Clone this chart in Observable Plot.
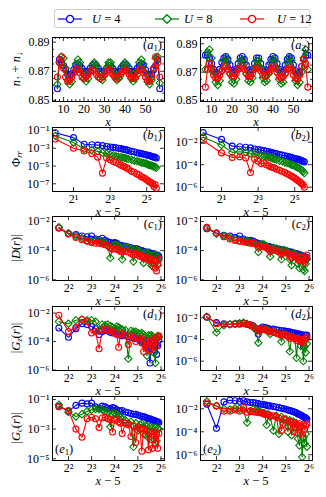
<!DOCTYPE html>
<html><head><meta charset="utf-8">
<script src="https://cdn.jsdelivr.net/npm/d3@7"></script>
<script src="https://cdn.jsdelivr.net/npm/@observablehq/plot@0.6"></script>
<style>
body{margin:0;background:#fff;}
#root{position:relative;width:326px;height:497px;overflow:hidden;font-family:"Liberation Serif","DejaVu Serif",serif;color:#000;}
.t{position:absolute;white-space:nowrap;line-height:1;font-size:12.5px;}
.t sub{font-size:70%;vertical-align:-0.3em;line-height:0;}
</style></head><body><div id="root"></div>
<script>
// ---------- data ----------
const SITES = [7,8,9,10,11,12,13,14,15,16,17,18,19,20,21,22,23,24,25,26,27,28,29,30,31,32,33,34,35,36,37,38,39,40,41,42,43,44,45,46,47,48,49,50,51,52,53,54,55,56,57];
const a1_U4 = [0.858,0.878,0.876,0.874,0.871,0.868,0.867,0.868,0.871,0.874,
  0.875,0.874,0.872,0.870,0.869,0.870,0.872,0.874,0.875,0.874,
  0.872,0.870,0.869,0.870,0.872,0.874,0.874,0.872,0.870,0.869,
  0.870,0.872,0.874,0.875,0.874,0.872,0.870,0.869,0.870,0.872,
  0.874,0.875,0.874,0.871,0.868,0.867,0.868,0.871,0.874,0.878,0.858];
const a1_U8 = [0.861,0.876,0.880,0.879,0.872,0.864,0.861,0.863,0.869,0.875,
  0.878,0.876,0.870,0.865,0.863,0.865,0.870,0.874,0.876,0.874,
  0.869,0.865,0.864,0.867,0.872,0.876,0.876,0.872,0.867,0.864,
  0.865,0.869,0.874,0.876,0.874,0.870,0.865,0.863,0.865,0.870,
  0.876,0.878,0.875,0.869,0.863,0.861,0.864,0.872,0.879,0.880,0.862];
const a1_U12 = [0.866,0.876,0.880,0.872,0.866,0.863,0.864,0.866,0.869,0.871,
  0.871,0.869,0.866,0.865,0.866,0.868,0.870,0.871,0.870,0.868,
  0.866,0.865,0.866,0.868,0.870,0.871,0.870,0.868,0.866,0.865,
  0.866,0.868,0.870,0.871,0.870,0.868,0.866,0.865,0.866,0.868,
  0.871,0.871,0.869,0.866,0.864,0.863,0.866,0.872,0.880,0.876,0.866];
const a2_U4 = [0.882,0.882,0.880,0.876,0.872,0.870,0.869,0.872,0.877,0.880,
  0.881,0.879,0.875,0.871,0.870,0.872,0.876,0.880,0.881,0.879,
  0.875,0.871,0.870,0.872,0.876,0.880,0.880,0.876,0.872,0.870,
  0.871,0.875,0.879,0.881,0.880,0.876,0.872,0.870,0.871,0.875,
  0.879,0.881,0.880,0.875,0.871,0.869,0.870,0.874,0.879,0.882,0.882];
const a2_U8 = [0.872,0.884,0.886,0.880,0.870,0.863,0.861,0.864,0.871,0.878,
  0.880,0.877,0.869,0.863,0.862,0.865,0.872,0.878,0.879,0.876,
  0.869,0.864,0.863,0.866,0.873,0.878,0.878,0.873,0.866,0.863,
  0.864,0.869,0.876,0.879,0.878,0.872,0.865,0.862,0.863,0.869,
  0.877,0.880,0.878,0.871,0.864,0.861,0.863,0.870,0.880,0.886,0.872];
const a2_U12 = [0.8595,0.872,0.876,0.873,0.868,0.866,0.866,0.868,0.871,0.873,
  0.874,0.872,0.869,0.867,0.867,0.869,0.872,0.873,0.874,0.872,
  0.869,0.867,0.867,0.869,0.872,0.873,0.873,0.871,0.868,0.867,
  0.868,0.870,0.872,0.874,0.873,0.870,0.867,0.866,0.867,0.869,
  0.872,0.873,0.872,0.868,0.866,0.865,0.868,0.874,0.879,0.876,0.8595];

// correlations vs x-5; values stored as log10 of the plotted quantity
const RB = [1,2,3,4,5,6,7,8,9,10,11,12,13,14,15,16,18,20,22,24,26,28,30,32,34,36,38,40,42,44,46];
const b1_U4 = [-1.25,-1.8,-2.55,-2.6,-2.65,-2.7,-2.8,-2.85,-2.9,-2.95,-3.0,-3.02,-3.1,-3.15,-3.18,-3.25,-3.35,-3.4,-3.5,-3.55,-3.6,-3.65,-3.7,-3.75,-3.8,-3.85,-3.9,-3.95,-4.0,-4.02,-4.1];
const b1_U8 = [-1.6,-2.35,-3.1,-3.2,-3.35,-3.5,-3.6,-3.7,-3.8,-3.9,-3.95,-4.0,-4.05,-4.1,-4.15,-4.2,-4.3,-4.4,-4.45,-4.5,-4.6,-4.65,-4.7,-4.75,-4.85,-4.9,-4.95,-5.0,-5.05,-5.1,-5.2];
const b1_U12 = [-1.95,-3.0,-3.3,-3.6,-4.0,-5.8,-4.1,-4.3,-4.5,-4.6,-4.75,-4.9,-5.0,-5.1,-5.2,-5.35,-5.6,-5.7,-5.9,-6.0,-6.2,-6.3,-6.4,-6.55,-6.7,-6.8,-6.9,-7.0,-7.3,-7.1,-7.5];
const b2_U4 = [-1.15,-1.75,-2.35,-2.4,-2.45,-2.5,-2.6,-2.65,-2.7,-2.75,-2.8,-2.85,-2.9,-2.95,-3.0,-3.0,-3.1,-3.15,-3.2,-3.25,-3.3,-3.35,-3.4,-3.45,-3.5,-3.5,-3.55,-3.6,-3.65,-3.7,-3.75];
const b2_U8 = [-1.55,-2.25,-2.9,-2.85,-2.9,-3.0,-3.05,-3.1,-3.2,-3.25,-3.3,-3.35,-3.4,-3.45,-3.5,-3.55,-3.65,-3.7,-3.8,-3.85,-3.9,-4.0,-4.05,-4.1,-4.2,-4.25,-4.3,-4.4,-4.5,-4.6,-4.75];
const b2_U12 = [-1.85,-2.95,-3.35,-3.3,-3.4,-4.7,-3.5,-3.7,-3.9,-3.85,-4.0,-4.1,-4.2,-4.25,-4.3,-4.4,-4.5,-4.6,-4.7,-4.8,-4.9,-5.0,-5.1,-5.2,-5.3,-5.4,-5.5,-5.6,-5.7,-5.8,-6.0];

const RC = [3,4,5,6,7,8,9,10,11,12,13,14,15,16,17,18,19,20,22,24,26,28,30,32,34,36,38,40,42,44,46,48,50,52,54,56,58,60];
const c1_U4 = [-2.45,-2.85,-2.9,-3.0,-3.05,-3.0,-3.2,-3.25,-3.15,-3.3,-3.4,-3.45,-3.5,-3.45,-3.5,-3.6,-3.7,-3.65,-3.7,-3.75,-3.8,-3.9,-3.85,-3.9,-4.0,-4.0,-4.05,-4.1,-4.15,-4.1,-4.2,-4.25,-4.2,-4.3,-4.3,-4.35,-4.3,-4.4];
const c1_U8 = [-2.4,-2.8,-3.0,-3.15,-3.3,-3.35,-3.3,-3.35,-3.45,-3.5,-3.7,-4.5,-3.7,-3.6,-3.6,-3.65,-3.8,-4.6,-3.75,-3.8,-3.9,-4.75,-3.9,-4.0,-4.05,-4.4,-4.85,-4.1,-4.15,-4.2,-4.6,-5.0,-5.1,-4.3,-4.25,-4.7,-5.0,-4.5];
const c1_U12 = [-2.45,-2.85,-3.1,-3.25,-3.35,-3.45,-3.5,-3.5,-3.55,-3.6,-3.65,-3.8,-3.9,-3.85,-3.9,-3.95,-4.05,-4.1,-4.0,-4.1,-4.2,-4.3,-4.2,-4.3,-4.4,-4.35,-4.5,-4.45,-4.6,-4.5,-4.7,-4.6,-4.9,-4.7,-5.2,-5.4,-4.9,-4.6];
const c2_U4 = [-2.5,-2.8,-2.95,-3.0,-3.1,-3.0,-3.2,-3.3,-3.3,-3.35,-3.45,-3.5,-3.55,-3.6,-3.65,-3.7,-3.7,-3.75,-3.8,-3.85,-3.9,-3.95,-4.0,-4.0,-4.05,-4.1,-4.1,-4.15,-4.2,-4.2,-4.25,-4.3,-4.3,-4.35,-4.4,-4.4,-4.45,-4.5];
const c2_U8 = [-2.45,-2.85,-3.0,-3.1,-3.2,-3.3,-3.3,-3.35,-3.4,-3.45,-3.55,-4.1,-3.6,-3.55,-3.6,-3.7,-3.8,-4.4,-3.8,-3.85,-3.95,-4.6,-3.95,-4.0,-4.1,-4.6,-5.0,-4.2,-4.25,-4.3,-4.9,-5.2,-4.4,-4.45,-5.3,-5.4,-4.9,-4.6];
const c2_U12 = [-2.4,-2.8,-3.05,-3.2,-3.3,-3.35,-3.4,-3.45,-3.5,-3.5,-3.55,-3.75,-3.75,-3.7,-3.75,-3.8,-3.9,-4.05,-3.95,-4.0,-4.1,-4.25,-4.1,-4.15,-4.2,-4.4,-4.5,-4.3,-4.35,-4.4,-4.6,-4.7,-4.45,-4.5,-4.7,-4.8,-4.5,-4.3];
const d1_U4 = [-3.05,-3.7,-3.1,-2.75,-2.8,-2.95,-3.1,-3.5,-3.3,-3.2,-3.25,-3.35,-3.4,-3.3,-3.45,-3.5,-3.55,-3.6,-3.55,-3.65,-3.6,-3.75,-3.8,-3.75,-3.9,-4.0,-3.9,-4.2,-4.0,-4.5,-5.5,-4.3,-4.1,-4.6,-4.2,-4.9,-4.3,-3.9];
const d1_U8 = [-2.6,-2.75,-2.5,-2.45,-2.5,-2.5,-2.6,-3.2,-2.8,-2.85,-2.8,-2.9,-3.0,-3.1,-2.95,-3.0,-3.1,-3.15,-3.2,-5.2,-3.25,-3.3,-3.3,-3.4,-3.45,-3.4,-3.5,-4.3,-5.0,-3.55,-3.6,-3.55,-3.65,-4.8,-5.5,-3.7,-3.6,-3.7];
const d1_U12 = [-2.15,-3.3,-3.0,-2.45,-2.6,-3.4,-3.3,-4.5,-3.2,-3.1,-3.2,-3.25,-3.3,-3.4,-3.5,-4.4,-3.5,-3.45,-3.6,-4.2,-3.6,-3.7,-4.0,-3.8,-3.75,-4.1,-4.7,-3.9,-4.5,-4.0,-4.6,-3.9,-4.4,-4.1,-3.8,-4.3,-3.7,-3.6];
const d2_U4 = [-1.95,-2.45,-2.55,-2.6,-2.55,-2.5,-2.5,-2.6,-2.65,-2.75,-3.0,-3.5,-3.0,-2.85,-2.9,-2.95,-3.0,-3.1,-3.05,-3.1,-3.15,-3.2,-3.2,-3.25,-3.3,-3.3,-3.35,-3.4,-3.4,-3.45,-3.5,-3.5,-3.55,-3.6,-4.6,-3.6,-3.65,-3.6];
const d2_U8 = [-1.9,-3.35,-2.7,-2.6,-2.55,-2.5,-2.45,-2.55,-2.7,-2.8,-3.1,-4.3,-3.2,-3.0,-3.05,-3.1,-3.2,-3.5,-3.3,-3.4,-3.5,-4.2,-3.5,-3.6,-3.7,-5.1,-3.7,-3.8,-3.9,-5.7,-3.9,-4.0,-4.6,-4.1,-6.0,-4.7,-5.2,-4.4];
const d2_U12 = [-1.9,-2.55,-2.6,-2.6,-2.6,-2.6,-2.55,-2.6,-2.7,-2.8,-2.95,-3.2,-3.1,-3.0,-3.1,-3.15,-3.2,-3.3,-3.3,-3.4,-3.5,-3.6,-3.5,-3.6,-3.7,-3.9,-3.8,-3.8,-3.9,-4.1,-3.9,-4.0,-4.2,-4.0,-4.3,-4.1,-3.9,-3.8];
const e1_U4 = [-1.45,-1.8,-1.4,-1.25,-1.3,-1.25,-1.5,-1.6,-1.45,-1.5,-1.6,-1.65,-1.55,-1.6,-1.7,-1.75,-1.8,-1.75,-1.85,-1.9,-1.95,-2.0,-2.0,-2.05,-2.1,-2.15,-2.15,-2.2,-2.25,-2.3,-2.3,-2.35,-2.4,-2.4,-2.45,-2.5,-2.5,-2.55];
const e1_U8 = [-1.35,-1.85,-2.15,-2.0,-1.8,-1.7,-1.65,-1.65,-1.7,-1.8,-1.9,-2.85,-2.0,-1.95,-2.0,-2.1,-2.2,-2.3,-2.4,-2.6,-2.5,-4.2,-2.6,-3.1,-2.7,-2.65,-3.3,-2.75,-2.8,-3.6,-2.85,-3.2,-2.9,-3.5,-2.9,-3.8,-2.95,-3.0];
const e1_U12 = [-1.5,-1.75,-3.0,-3.55,-2.3,-2.2,-2.3,-2.9,-2.25,-2.2,-2.3,-2.35,-3.2,-2.4,-2.35,-2.5,-2.6,-3.3,-2.6,-2.7,-3.5,-2.8,-3.9,-2.9,-3.0,-4.5,-3.0,-3.4,-3.1,-4.4,-3.2,-3.7,-4.3,-3.2,-4.0,-3.3,-4.3,-3.3];
const e2_U4 = [-1.6,-3.7,-1.4,-1.25,-1.3,-1.35,-1.3,-1.4,-1.45,-1.45,-1.5,-1.55,-1.6,-1.6,-1.65,-1.7,-1.75,-1.75,-1.8,-1.85,-1.9,-1.95,-2.0,-2.05,-2.1,-2.15,-2.2,-2.25,-2.3,-2.35,-2.45,-2.5,-2.55,-2.6,-2.7,-2.75,-2.8,-2.9];
const e2_U8 = [-1.35,-1.75,-2.0,-2.05,-1.95,-2.0,-2.1,-3.2,-2.2,-2.05,-2.1,-2.2,-2.3,-2.35,-2.4,-3.4,-2.5,-2.7,-3.9,-2.6,-4.2,-2.7,-3.3,-2.9,-4.0,-3.0,-4.3,-3.1,-3.6,-3.3,-4.6,-5.2,-3.6,-6.2,-4.5,-5.0,-4.2,-5.3];
const e2_U12 = [-1.5,-1.75,-2.2,-2.2,-2.1,-2.2,-1.9,-2.3,-2.2,-2.25,-2.3,-2.35,-2.3,-2.4,-2.5,-2.45,-2.5,-2.6,-2.6,-2.7,-2.8,-3.9,-2.9,-3.0,-3.5,-3.1,-3.2,-4.0,-3.2,-3.4,-4.1,-3.3,-3.5,-4.2,-3.4,-3.8,-3.5,-3.3];

const SERIES = [
  {label:"4", color:"#0000ff", symbol:"circle", r:3},
  {label:"8", color:"#008000", symbol:"diamond2", r:3.3},
  {label:"12", color:"#ff0000", symbol:"circle", r:3}
];

// ---------- layout ----------
const root = document.getElementById("root");
const FONT = '"Liberation Serif","DejaVu Serif",serif';
const COLS = [52, 200], FW = 112, FH = 64;
const ROWS = {a:37, b:127, c:216, d:306, e:396};
const SUPS = "⁰¹²³⁴⁵⁶⁷⁸⁹";
const sup = n => String(n).replace("-", "⁻").replace(/\d/g, d => SUPS[d]);
const f10 = d => "10" + sup(Math.round(Math.log10(d)));
const f2 = d => "2" + sup(Math.round(Math.log2(d)));

function panel(o) {
  const ml = 44, mr = 8, mt = 8, mb = 22;
  const W = ml + FW + mr, H = mt + FH + mb;
  const tk = {stroke:"#000", strokeWidth:0.8};
  const marks = [];
  o.series.forEach((vals, i) => {
    const s = SERIES[i];
    const data = o.xs.map((x, j) => ({x, y: o.log ? Math.pow(10, vals[j]) : vals[j]}));
    marks.push(Plot.line(data, {x:"x", y:"y", stroke:s.color, strokeWidth:1.1, clip:true}));
    marks.push(Plot.dot(data, {x:"x", y:"y", stroke:s.color, symbol:s.symbol, r:s.r, fill:"none", strokeWidth:1.1, clip:true}));
  });
  for (const [v, len] of [[o.xTicks, 4], [o.xMinor || [], 2]]) {
    marks.push(Plot.tickX(v, {x:d=>d, insetTop:FH-len, ...tk}));
    marks.push(Plot.tickX(v, {x:d=>d, insetBottom:FH-len, ...tk}));
  }
  for (const [v, len] of [[o.yTicks, 4], [o.yMinor || [], 2]]) {
    marks.push(Plot.tickY(v, {y:d=>d, insetRight:FW-len, ...tk}));
    marks.push(Plot.tickY(v, {y:d=>d, insetLeft:FW-len, ...tk}));
  }
  marks.push(Plot.frame({stroke:"#000", strokeWidth:1}));
  marks.push(Plot.axisX(o.xTicks, {tickSize:0, tickPadding:3, tickFormat:o.xFmt, label:null, fontSize:12}));
  marks.push(Plot.axisY(o.yTicks, {tickSize:0, tickPadding:3, tickFormat:o.yFmt, label:null, fontSize:12}));
  const svg = Plot.plot({
    width:W, height:H, marginLeft:ml, marginRight:mr, marginTop:mt, marginBottom:mb,
    x:o.xType === "log" ? {type:"log", base:2, domain:o.xDomain} : {type:"linear", domain:o.xDomain},
    y:o.log ? {type:"log", base:10, domain:o.yDomain} : {type:"linear", domain:o.yDomain},
    style:{fontFamily:FONT, fontSize:"12px", background:"transparent", overflow:"visible", color:"#000"},
    marks
  });
  svg.style.position = "absolute";
  svg.style.left = (o.left - ml) + "px";
  svg.style.top = (o.top - mt) + "px";
  root.appendChild(svg);
}

function text(html, x, y, tf) {
  const d = document.createElement("div");
  d.className = "t";
  d.innerHTML = html;
  d.style.left = x + "px";
  d.style.top = y + "px";
  d.style.transform = tf;
  root.appendChild(d);
  return d;
}

// row a
const xMinA = d3.range(6, 60, 2).filter(v => v % 10 !== 0);
const aBase = {xs:SITES, xType:"linear", xDomain:[4.6, 59.3], xTicks:[10,20,30,40,50], xMinor:xMinA,
  yTicks:[0.85,0.87,0.89], yMinor:[0.855,0.86,0.865,0.875,0.88,0.885], yFmt:d3.format(".2f"), xFmt:d=>String(d)};
panel({...aBase, left:COLS[0], top:ROWS.a, yDomain:[0.8492, 0.8932], series:[a1_U4, a1_U8, a1_U12]});
panel({...aBase, left:COLS[1], top:ROWS.a, yDomain:[0.8494, 0.8944], series:[a2_U4, a2_U8, a2_U12]});
// row b
const bBase = {xs:RB, xType:"log", xDomain:[0.903, 62.7], xTicks:[2,8,32], xFmt:f2, yFmt:f10, log:true};
panel({...bBase, left:COLS[0], top:ROWS.b, yDomain:[Math.pow(10,-7.87), Math.pow(10,-0.66)], yTicks:[1e-1,1e-3,1e-5,1e-7], series:[b1_U4, b1_U8, b1_U12]});
panel({...bBase, left:COLS[1], top:ROWS.b, yDomain:[Math.pow(10,-6.38), Math.pow(10,-0.69)], yTicks:[1e-2,1e-4,1e-6], series:[b2_U4, b2_U8, b2_U12]});
// rows c-e
const cBase = {xs:RC, xType:"log", xDomain:[2.48, 71], xTicks:[4,8,16,32,64], xFmt:f2, yFmt:f10, log:true};
panel({...cBase, left:COLS[0], top:ROWS.c, yDomain:[Math.pow(10,-6.05), Math.pow(10,-1.66)], yTicks:[1e-2,1e-4,1e-6], series:[c1_U4, c1_U8, c1_U12]});
panel({...cBase, left:COLS[1], top:ROWS.c, yDomain:[Math.pow(10,-6.05), Math.pow(10,-1.66)], yTicks:[1e-2,1e-4,1e-6], series:[c2_U4, c2_U8, c2_U12]});
panel({...cBase, left:COLS[0], top:ROWS.d, yDomain:[Math.pow(10,-6.03), Math.pow(10,-1.54)], yTicks:[1e-2,1e-4,1e-6], series:[d1_U4, d1_U8, d1_U12]});
panel({...cBase, left:COLS[1], top:ROWS.d, yDomain:[Math.pow(10,-6.86), Math.pow(10,-0.96)], yTicks:[1e-2,1e-4,1e-6], series:[d2_U4, d2_U8, d2_U12]});
panel({...cBase, left:COLS[0], top:ROWS.e, yDomain:[Math.pow(10,-5.12), Math.pow(10,-0.8)], yTicks:[1e-1,1e-3,1e-5], series:[e1_U4, e1_U8, e1_U12]});
panel({...cBase, left:COLS[1], top:ROWS.e, yDomain:[Math.pow(10,-6.5), Math.pow(10,-0.93)], yTicks:[1e-2,1e-4,1e-6], series:[e2_U4, e2_U8, e2_U12]});

// axis labels
const rowKeys = ["a","b","c","d","e"];
rowKeys.forEach(k => {
  COLS.forEach(cx => {
    const lbl = k === "a" ? "<i>x</i>" : "<i>x</i> − 5";
    text(lbl, cx + FW/2, ROWS[k] + FH + 21, "translate(-50%,-50%)");
  });
});
const yLabels = {
  a:"<i>n</i><sub>↑</sub> + <i>n</i><sub>↓</sub>",
  b:"Φ<sub><i>rr</i></sub>",
  c:"|<i>D</i>(<i>r</i>)|",
  d:"|<i>G<sub>z</sub></i>(<i>r</i>)|",
  e:"|<i>G<sub>c</sub></i>(<i>r</i>)|"
};
rowKeys.forEach(k => text(yLabels[k], 16, ROWS[k] + FH/2, "translate(-50%,-50%) rotate(-90deg)"));

// panel tags
rowKeys.forEach(k => {
  COLS.forEach((cx, i) => {
    const tag = `(<i>${k}</i><sub>${i+1}</sub>)`;
    if (k === "e") text(tag, cx + 3, ROWS[k] + FH - 11, "translate(0,-50%)");
    else text(tag, cx + FW - 2, ROWS[k] + 7.5, "translate(-100%,-50%)");
  });
});

// legend
const leg = document.createElement("div");
leg.style.cssText = "position:absolute;left:54px;top:9px;width:256px;height:19px;border:1px solid #cfcfcf;border-radius:2px;box-sizing:border-box;";
root.appendChild(leg);
const legPos = [[58, 92], [155, 184], [240, 277]];
const ns = "http://www.w3.org/2000/svg";
SERIES.forEach((s, i) => {
  const [lx, tx] = legPos[i];
  const svg = document.createElementNS(ns, "svg");
  svg.setAttribute("width", 26); svg.setAttribute("height", 12);
  svg.style.cssText = `position:absolute;left:${lx}px;top:12.5px;overflow:visible`;
  const ln = document.createElementNS(ns, "line");
  ln.setAttribute("x1", 0); ln.setAttribute("x2", 24); ln.setAttribute("y1", 6); ln.setAttribute("y2", 6);
  ln.setAttribute("stroke", s.color); ln.setAttribute("stroke-width", 1.2);
  svg.appendChild(ln);
  const rr = s.r + 0.6;
  const symType = s.symbol === "circle" ? d3.symbolCircle : (d3.symbolDiamond2 || d3.symbolDiamond);
  const p = document.createElementNS(ns, "path");
  p.setAttribute("d", d3.symbol(symType, Math.PI * rr * rr)());
  p.setAttribute("transform", "translate(12,6)");
  p.setAttribute("fill", "#fff"); p.setAttribute("stroke", s.color); p.setAttribute("stroke-width", 1.3);
  svg.appendChild(p);
  root.appendChild(svg);
  text(`<i>U</i> = ${s.label}`, tx, 18.5, "translate(0,-50%)");
});
</script></body></html>
